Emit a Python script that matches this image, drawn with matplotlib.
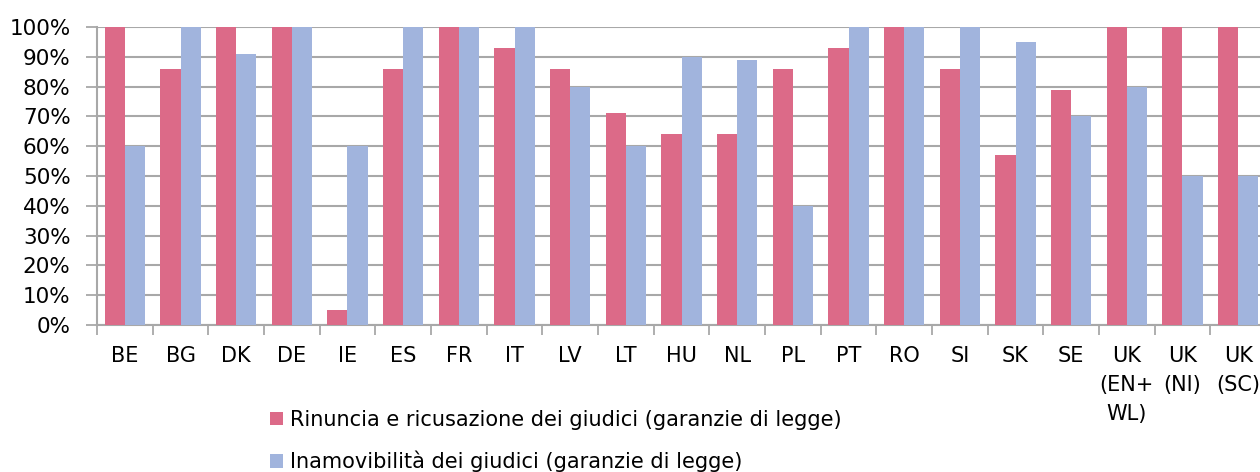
import matplotlib
matplotlib.use("Agg")
import matplotlib.pyplot as plt
import numpy as np
from matplotlib.ticker import FixedLocator, PercentFormatter

categories = ["BE", "BG", "DK", "DE", "IE", "ES", "FR", "IT", "LV", "LT", "HU",
              "NL", "PL", "PT", "RO", "SI", "SK", "SE", "UK\n(EN+\nWL)", "UK\n(NI)", "UK\n(SC)"]
rinuncia = [100, 86, 100, 100, 5, 86, 100, 93, 86, 71, 64, 64, 86, 93, 100, 86, 57, 79, 100, 100, 100]
inamovibilita = [60, 100, 91, 100, 60, 100, 100, 100, 80, 60, 90, 89, 40, 100, 100, 100, 95, 70, 80, 50, 50]
series_labels = ["Rinuncia e ricusazione dei giudici (garanzie di legge)",
                 "Inamovibilità dei giudici (garanzie di legge)"]

RED = "#DC6A88"
BLUE = "#A1B4DD"
GRID = "#A8A8A8"

plt.rcParams['font.family'] = ['DejaVu Sans']
fig = plt.figure(figsize=(12.6, 4.72), dpi=100)
W, H = 1260, 472
left, right, top, bottom = 97, 1266, 27, 325
ax = fig.add_axes([left / W, 1 - bottom / H, (right - left) / W, (bottom - top) / H])

x = np.arange(len(categories))
bw = 0.36
b1 = ax.bar(x - bw / 2, rinuncia, bw, color=RED, label=series_labels[0], zorder=3)
b2 = ax.bar(x + bw / 2, inamovibilita, bw, color=BLUE, label=series_labels[1], zorder=3)

ax.set_xlim(-0.5, len(categories) - 0.5)
ax.set_ylim(0, 100)
ax.set_yticks(np.arange(0, 101, 10))
ax.yaxis.set_major_formatter(PercentFormatter(decimals=0))
ax.yaxis.grid(True, color=GRID, linewidth=1.5, zorder=0)
ax.set_axisbelow(True)

ax.set_xticks(x)
ax.set_xticklabels(categories, fontsize=15, linespacing=1.58, va='top')
ax.xaxis.set_minor_locator(FixedLocator(np.arange(-0.5, len(categories), 1.0)))
ax.tick_params(axis='x', which='major', length=0, pad=15)
ax.tick_params(axis='x', which='minor', length=7, width=1.3, color=GRID, direction='out')
ax.tick_params(axis='y', length=8, width=1.3, color=GRID, direction='out', labelsize=15.5, pad=11)

for s in ['top', 'right']:
    ax.spines[s].set_visible(False)
for s in ['left', 'bottom']:
    ax.spines[s].set_color(GRID)
    ax.spines[s].set_linewidth(1.5)

leg = fig.legend(handles=[b1, b2], labels=series_labels, loc='upper left',
                 bbox_to_anchor=(270 / W, 1 - 410 / H), frameon=False,
                 fontsize=15, handlelength=0.63, handleheight=0.63,
                 handletextpad=0.34, labelspacing=1.0, borderaxespad=0, borderpad=0)

fig.savefig("out.png", dpi=100)
